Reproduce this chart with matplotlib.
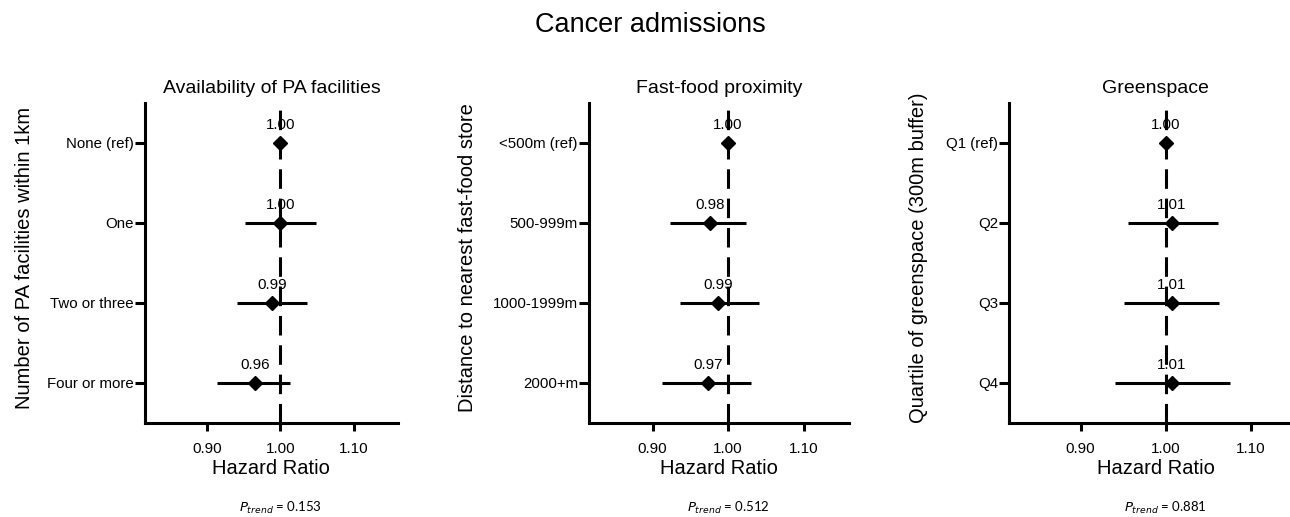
import matplotlib
matplotlib.use("Agg")
import matplotlib.pyplot as plt
import numpy as np

plt.rcParams["font.family"] = ["Liberation Sans", "DejaVu Sans"]

# ---------------------------------------------------------------------------
# data (hazard ratio, lower CI, upper CI)
# ---------------------------------------------------------------------------
PANEL_TITLES = ["Availability of PA facilities", "Fast-food proximity", "Greenspace"]
PANEL_YLABELS = [
    "Number of PA facilities within 1km",
    "Distance to nearest fast-food store",
    "Quartile of greenspace (300m buffer)",
]
PANEL_CATS = [
    ["None (ref)", "One", "Two or three", "Four or more"],
    ["<500m (ref)", "500-999m", "1000-1999m", "2000+m"],
    ["Q1 (ref)", "Q2", "Q3", "Q4"],
]
PANEL_HR = [
    [1.000, 1.000, 0.989, 0.966],
    [1.000, 0.976, 0.987, 0.974],
    [1.000, 1.007, 1.007, 1.007],
]
PANEL_LO = [
    [1.000, 0.952, 0.941, 0.914],
    [1.000, 0.923, 0.936, 0.913],
    [1.000, 0.956, 0.951, 0.941],
]
PANEL_HI = [
    [1.000, 1.048, 1.036, 1.013],
    [1.000, 1.023, 1.041, 1.030],
    [1.000, 1.061, 1.063, 1.075],
]
PANEL_LABELS = [
    ["1.00", "1.00", "0.99", "0.96"],
    ["1.00", "0.98", "0.99", "0.97"],
    ["1.00", "1.01", "1.01", "1.01"],
]
P_TREND = ["0.153", "0.512", "0.881"]
X_TICKS = [0.90, 1.00, 1.10]

# layout (figure fractions)
AX_RECTS = [
    (0.1124, 0.182, 0.196, 0.619),
    (0.4566, 0.182, 0.2016, 0.619),
    (0.7822, 0.182, 0.2271, 0.619),
]
YLABEL_X = [-0.439, -0.430, -0.276]   # axes fraction
XLIM = (0.816, 1.160)
LW = 2.2


def draw_panel(ax, title, ylabel, cats, hr, lo, hi, labels, ylab_x):
    y = np.arange(1, len(cats) + 1)
    ax.axvline(1.0, color="black", linewidth=LW, dashes=(6.4, 3.2), zorder=1)
    ax.hlines(y, lo, hi, color="black", linewidth=LW, zorder=2)
    ax.plot(hr, y, linestyle="none", marker="D", markersize=7.5,
            color="black", zorder=3)
    for xi, yi, lab in zip(hr, y, labels):
        ax.annotate(lab, (xi, yi), xytext=(0, 13), textcoords="offset points",
                    ha="center", va="center", fontsize=10.8)

    ax.set_xlim(*XLIM)
    ax.set_ylim(len(cats) + 0.5, 0.5)
    ax.set_yticks(y)
    ax.set_yticklabels(cats, fontsize=10.8)
    ax.set_xticks(X_TICKS)
    ax.set_xticklabels([f"{t:.2f}" for t in X_TICKS], fontsize=11)
    ax.tick_params(axis="y", length=7, width=LW, pad=1)
    ax.tick_params(axis="x", length=6, width=LW, pad=8)
    for side in ("top", "right"):
        ax.spines[side].set_visible(False)
    for side in ("left", "bottom"):
        ax.spines[side].set_linewidth(LW)
    ax.set_xlabel("Hazard Ratio", fontsize=14.5, labelpad=2)
    ax.set_ylabel(ylabel, fontsize=14.5)
    ax.yaxis.set_label_coords(ylab_x, 0.517)
    ax.set_title(title, fontsize=14, pad=7)


fig = plt.figure(figsize=(12.9, 5.17), dpi=100)
fig.text(0.504, 0.952, "Cancer admissions", ha="center", va="center", fontsize=19.5)

for i, rect in enumerate(AX_RECTS):
    ax = fig.add_axes(rect)
    draw_panel(ax, PANEL_TITLES[i], PANEL_YLABELS[i], PANEL_CATS[i],
               PANEL_HR[i], PANEL_LO[i], PANEL_HI[i], PANEL_LABELS[i], YLABEL_X[i])
    # P for trend, centred under the 1.00 tick
    trans = matplotlib.transforms.blended_transform_factory(ax.transData, fig.transFigure)
    ax.text(1.0, 0.018, r"$P_{trend}$ = " + P_TREND[i], transform=trans,
            ha="center", va="center", fontsize=9.5, family=["Lato", "DejaVu Sans"],
            clip_on=False)

fig.savefig("out.png", dpi=100, facecolor="white")
